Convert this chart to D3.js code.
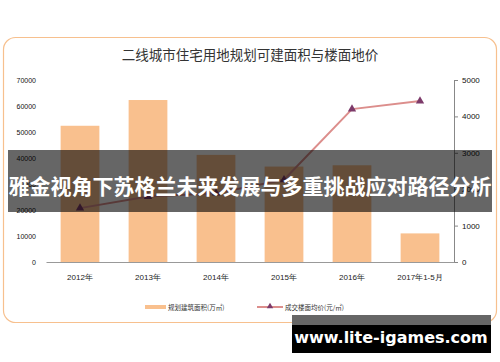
<!DOCTYPE html>
<html>
<head>
<meta charset="utf-8">
<script src="https://cdnjs.cloudflare.com/ajax/libs/d3/7.8.5/d3.min.js"></script>
<style>
  body { margin: 0; background: #fff; }
  svg { display: block; font-family: "Noto Sans CJK SC", "DejaVu Sans", sans-serif; }
</style>
</head>
<body>
<div id="chart"></div>
<script>
// data
const categories = ["2012年", "2013年", "2014年", "2015年", "2016年", "2017年1-5月"];
const areaValues = [52400, 62300, 41200, 36700, 37200, 11000];   // 规划建筑面积(万㎡)
const priceValues = [1480, 1800, 1890, 2260, 4200, 4420];        // 成交楼面均价(元/㎡)
const leftTicks = [0, 10000, 20000, 30000, 40000, 50000, 60000, 70000];
const rightTicks = [0, 1000, 2000, 3000, 4000, 5000];

const W = 500, H = 362;
const svg = d3.select("#chart").append("svg")
    .attr("width", W)
    .attr("height", H);

// card frame
svg.append("rect")
    .attr("x", 3.5).attr("y", 37.5)
    .attr("width", 493).attr("height", 285)
    .attr("rx", 12)
    .attr("fill", "#fff")
    .attr("stroke", "#f7c08e")
    .attr("stroke-width", 1.2);

svg.append("text")
    .attr("x", 250).attr("y", 60)
    .attr("text-anchor", "middle")
    .attr("font-size", 13.5)
    .attr("fill", "#333")
    .text("二线城市住宅用地规划可建面积与楼面地价");

const plot = {left: 46, right: 454, top: 80, bottom: 262};

const x = d3.scaleBand()
    .domain(categories)
    .range([plot.left, plot.right])
    .paddingInner(0.43)
    .paddingOuter(0.215);

const yL = d3.scaleLinear().domain([0, 70000]).range([plot.bottom, plot.top]);
const yR = d3.scaleLinear().domain([0, 5000]).range([plot.bottom, plot.top]);

// bars
svg.append("g").selectAll("rect")
    .data(areaValues)
    .join("rect")
    .attr("x", (d, i) => x(categories[i]))
    .attr("y", d => yL(d))
    .attr("width", x.bandwidth())
    .attr("height", d => plot.bottom - yL(d))
    .attr("fill", "#f9c08e");

// left axis labels (no axis line)
const gL = svg.append("g")
    .attr("transform", `translate(${plot.left},0)`)
    .call(d3.axisLeft(yL).tickValues(leftTicks).tickSize(0).tickPadding(10).tickFormat(d3.format("d")));
gL.select(".domain").remove();
gL.selectAll("text").attr("font-size", 7).attr("fill", "#111").attr("font-family", "Liberation Sans, sans-serif");

// right axis
const gR = svg.append("g")
    .attr("transform", `translate(${plot.right},0)`)
    .call(d3.axisRight(yR).tickValues(rightTicks).tickSize(4).tickSizeOuter(4).tickPadding(4).tickFormat(d3.format("d")));
gR.select(".domain").attr("stroke", "#888");
gR.selectAll("line").attr("stroke", "#888");
gR.selectAll("text").attr("font-size", 8).attr("fill", "#111").attr("font-family", "Liberation Sans, sans-serif");

// baseline + x labels
const gX = svg.append("g")
    .attr("transform", `translate(0,${plot.bottom})`)
    .call(d3.axisBottom(x).tickSize(0).tickPadding(12));
gX.select(".domain").attr("stroke", "#999");
gX.selectAll("text").attr("font-size", 8).attr("fill", "#222");

// price line
const line = d3.line()
    .x((d, i) => x(categories[i]) + x.bandwidth() / 2)
    .y(d => yR(d));

svg.append("path")
    .datum(priceValues)
    .attr("d", line)
    .attr("fill", "none")
    .attr("stroke", "#dc8e8c")
    .attr("stroke-width", 2);

const tri = d3.symbol().type(d3.symbolTriangle).size(30);
svg.append("g").selectAll("path")
    .data(priceValues)
    .join("path")
    .attr("transform", (d, i) => `translate(${x(categories[i]) + x.bandwidth() / 2},${yR(d)})`)
    .attr("d", tri)
    .attr("fill", "#7d3a6a");

// legend
const lg = svg.append("g").attr("font-size", 6.5).attr("fill", "#333");
lg.append("rect").attr("x", 145).attr("y", 305).attr("width", 21).attr("height", 4).attr("fill", "#f9c08e");
lg.append("text").attr("x", 168).attr("y", 310).text("规划建筑面积(万㎡)");
lg.append("line").attr("x1", 257).attr("x2", 283).attr("y1", 307).attr("y2", 307)
    .attr("stroke", "#dc8e8c").attr("stroke-width", 2);
lg.append("path").attr("transform", "translate(270,306.5)").attr("d", d3.symbol().type(d3.symbolTriangle).size(18)).attr("fill", "#7d3a6a");
lg.append("text").attr("x", 285).attr("y", 310).text("成交楼面均价(元/㎡)");

// overlay banner
svg.append("rect")
    .attr("x", 8).attr("y", 150)
    .attr("width", 484).attr("height", 62)
    .attr("fill", "rgba(0,0,0,0.6)");
svg.append("text")
    .attr("x", 250).attr("y", 194)
    .attr("text-anchor", "middle")
    .attr("font-size", 21)
    .attr("font-weight", "bold")
    .attr("fill", "#fff")
    .text("雅金视角下苏格兰未来发展与多重挑战应对路径分析");

// watermark
svg.append("rect")
    .attr("x", 292).attr("y", 315)
    .attr("width", 199).attr("height", 38)
    .attr("fill", "#000");
svg.append("rect")
    .attr("x", 292).attr("y", 315)
    .attr("width", 199).attr("height", 10)
    .attr("fill", "#666");
svg.append("text")
    .attr("x", 391).attr("y", 343)
    .attr("text-anchor", "middle")
    .attr("font-size", 16)
    .attr("font-weight", "bold")
    .attr("font-family", "DejaVu Sans, sans-serif")
    .attr("fill", "#fff")
    .text("www.lite-igames.com");
</script>
</body>
</html>
